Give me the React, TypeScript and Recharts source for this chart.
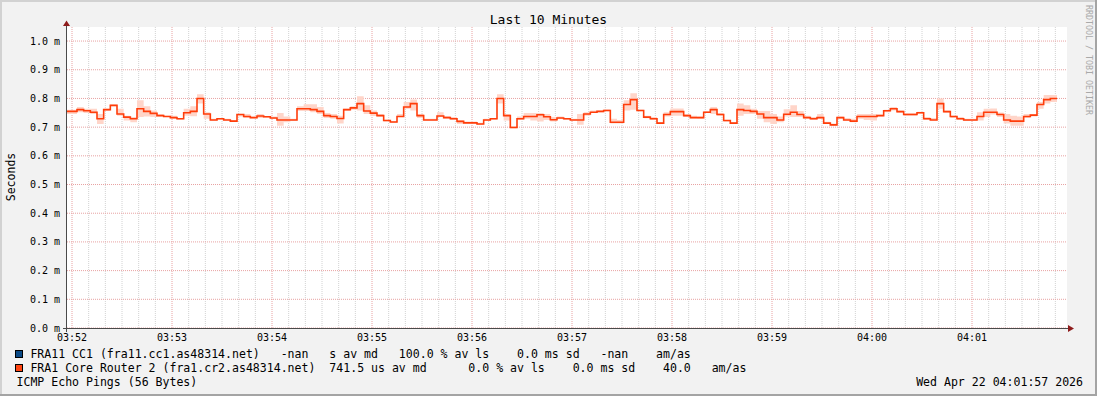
import React from 'react';
import { ComposedChart, Area, Line, XAxis, YAxis, CartesianGrid } from 'recharts';

const MONO = '"DejaVu Sans Mono", "Liberation Mono", monospace';

// x axis: seconds after 03:51:57 (left edge of the 10 minute window)
const MINUTE_LABELS = ['03:52', '03:53', '03:54', '03:55', '03:56', '03:57', '03:58', '03:59', '04:00', '04:01'];
const Y_TICKS = [0, 0.1, 0.2, 0.3, 0.4, 0.5, 0.6, 0.7, 0.8, 0.9, 1.0];
const Y_MAX = 1.049;
const WINDOW_SEC = 600;
const STEP_SEC = 4;
const FIRST_STEP_SEC = 6;

// median rtt per step, ms
const MEDIAN = [
  0.755, 0.761, 0.757, 0.752, 0.729, 0.761, 0.776, 0.746, 0.735, 0.729,
  0.764, 0.755, 0.748, 0.740, 0.737, 0.733, 0.729, 0.750, 0.755, 0.800,
  0.746, 0.725, 0.729, 0.725, 0.721, 0.744, 0.737, 0.733, 0.739, 0.736,
  0.732, 0.725, 0.725, 0.725, 0.764, 0.764, 0.761, 0.755, 0.740, 0.737,
  0.730, 0.761, 0.767, 0.782, 0.756, 0.749, 0.740, 0.723, 0.718, 0.737,
  0.770, 0.782, 0.740, 0.725, 0.725, 0.739, 0.733, 0.729, 0.720, 0.715,
  0.715, 0.711, 0.725, 0.729, 0.800, 0.740, 0.699, 0.729, 0.737, 0.737,
  0.743, 0.736, 0.726, 0.732, 0.729, 0.725, 0.725, 0.746, 0.752, 0.755,
  0.758, 0.717, 0.717, 0.779, 0.796, 0.758, 0.735, 0.729, 0.714, 0.744,
  0.754, 0.754, 0.740, 0.733, 0.733, 0.752, 0.761, 0.744, 0.723, 0.714,
  0.761, 0.758, 0.755, 0.746, 0.733, 0.733, 0.725, 0.745, 0.752, 0.744,
  0.733, 0.729, 0.733, 0.714, 0.708, 0.733, 0.725, 0.721, 0.737, 0.737,
  0.737, 0.740, 0.757, 0.764, 0.754, 0.744, 0.744, 0.750, 0.729, 0.725,
  0.782, 0.754, 0.737, 0.729, 0.725, 0.725, 0.737, 0.752, 0.752, 0.744,
  0.725, 0.721, 0.721, 0.737, 0.742, 0.779, 0.796, 0.800,
];

// smoke band (max / min ping of each step), ms
const SMOKE_HI = [
  0.761, 0.770, 0.764, 0.764, 0.746, 0.764, 0.779, 0.764, 0.740, 0.735,
  0.794, 0.773, 0.758, 0.746, 0.740, 0.740, 0.732, 0.764, 0.773, 0.815,
  0.752, 0.729, 0.732, 0.729, 0.725, 0.746, 0.746, 0.737, 0.746, 0.739,
  0.737, 0.749, 0.737, 0.729, 0.773, 0.780, 0.780, 0.770, 0.749, 0.746,
  0.740, 0.764, 0.773, 0.808, 0.776, 0.758, 0.746, 0.726, 0.721, 0.746,
  0.788, 0.796, 0.746, 0.729, 0.729, 0.752, 0.739, 0.735, 0.725, 0.720,
  0.720, 0.715, 0.729, 0.732, 0.815, 0.746, 0.704, 0.737, 0.749, 0.749,
  0.749, 0.746, 0.735, 0.737, 0.732, 0.729, 0.746, 0.752, 0.758, 0.758,
  0.762, 0.729, 0.725, 0.794, 0.818, 0.761, 0.740, 0.735, 0.717, 0.752,
  0.765, 0.765, 0.746, 0.740, 0.737, 0.756, 0.770, 0.749, 0.725, 0.718,
  0.782, 0.776, 0.764, 0.756, 0.756, 0.746, 0.737, 0.762, 0.776, 0.756,
  0.740, 0.735, 0.746, 0.719, 0.713, 0.737, 0.732, 0.729, 0.746, 0.746,
  0.746, 0.744, 0.761, 0.770, 0.758, 0.749, 0.749, 0.754, 0.735, 0.732,
  0.800, 0.758, 0.740, 0.735, 0.729, 0.729, 0.752, 0.764, 0.765, 0.751,
  0.746, 0.740, 0.737, 0.746, 0.746, 0.788, 0.812, 0.812,
];

const SMOKE_LO = [
  0.746, 0.752, 0.749, 0.746, 0.711, 0.756, 0.773, 0.740, 0.723, 0.717,
  0.735, 0.737, 0.735, 0.737, 0.735, 0.729, 0.726, 0.740, 0.738, 0.782,
  0.729, 0.723, 0.726, 0.723, 0.719, 0.737, 0.732, 0.731, 0.732, 0.733,
  0.729, 0.705, 0.717, 0.723, 0.756, 0.756, 0.752, 0.746, 0.732, 0.729,
  0.713, 0.756, 0.761, 0.758, 0.746, 0.739, 0.737, 0.720, 0.715, 0.735,
  0.764, 0.758, 0.732, 0.723, 0.723, 0.735, 0.730, 0.725, 0.711, 0.713,
  0.713, 0.708, 0.721, 0.726, 0.782, 0.723, 0.696, 0.725, 0.729, 0.723,
  0.720, 0.725, 0.720, 0.729, 0.725, 0.723, 0.708, 0.740, 0.749, 0.751,
  0.755, 0.713, 0.713, 0.758, 0.761, 0.755, 0.731, 0.725, 0.711, 0.737,
  0.740, 0.740, 0.735, 0.730, 0.729, 0.749, 0.746, 0.740, 0.719, 0.711,
  0.740, 0.746, 0.746, 0.729, 0.717, 0.711, 0.717, 0.737, 0.735, 0.735,
  0.730, 0.725, 0.729, 0.711, 0.705, 0.729, 0.723, 0.717, 0.729, 0.725,
  0.723, 0.737, 0.752, 0.758, 0.750, 0.740, 0.740, 0.746, 0.725, 0.723,
  0.764, 0.750, 0.732, 0.725, 0.721, 0.721, 0.723, 0.735, 0.744, 0.735,
  0.713, 0.705, 0.705, 0.732, 0.737, 0.764, 0.782, 0.788,
];

const LEGEND_ROWS = [
  { color: '#0b4a86', text: 'FRA11 CC1 (fra11.cc1.as48314.net)   -nan   s av md   100.0 % av ls    0.0 ms sd   -nan    am/as' },
  { color: '#ff4512', text: 'FRA1 Core Router 2 (fra1.cr2.as48314.net)  741.5 us av md      0.0 % av ls    0.0 ms sd    40.0   am/as' },
];
const FOOTER_LEFT = 'ICMP Echo Pings (56 Bytes)';
const FOOTER_RIGHT = 'Wed Apr 22 04:01:57 2026';

const stepTime = (i: number) => (i === 0 ? 0 : FIRST_STEP_SEC + STEP_SEC * (i - 1));

const data = MEDIAN.map((m, i) => ({ t: stepTime(i), median: m, smoke: [SMOKE_LO[i], SMOKE_HI[i]] }));
const last = MEDIAN.length - 1;
data.push({ t: stepTime(last) + STEP_SEC, median: MEDIAN[last], smoke: [SMOKE_LO[last], SMOKE_HI[last]] });

const MAJOR_X = MINUTE_LABELS.map((_, i) => 3 + 60 * i);
const MINOR_X: number[] = [];
for (let s = 3; s < WINDOW_SEC; s += 10) if ((s - 3) % 60 !== 0) MINOR_X.push(s);

const Frame = () => (
  <svg width={1097} height={396} style={{ position: 'absolute', left: 0, top: 0, pointerEvents: 'none' }}>
    <rect x={0} y={0} width={1097} height={2} fill="#d2d2d2" />
    <rect x={0} y={0} width={2} height={396} fill="#d2d2d2" />
    <rect x={0} y={394} width={1097} height={2} fill="#a4a4a4" />
    <rect x={1095} y={0} width={2} height={396} fill="#a4a4a4" />
    <line x1={63} y1={328.5} x2={1069} y2={328.5} stroke="#4a4a4a" strokeWidth={1} />
    <line x1={66.5} y1={25} x2={66.5} y2={332} stroke="#4a4a4a" strokeWidth={1} />
    <polygon points="1068,325 1074,328.5 1068,332" fill="#8e1c1c" />
    <polygon points="63,26 66.5,20.5 70,26" fill="#8e1c1c" />
  </svg>
);

export default function App() {
  const txt: React.CSSProperties = { position: 'absolute', fontFamily: MONO, whiteSpace: 'pre', color: '#000' };
  return (
    <div style={{ position: 'absolute', left: 0, top: 0, width: 1097, height: 396, background: '#f2f2f2', overflow: 'hidden' }}>
      <ComposedChart width={1097} height={396} data={data} margin={{ top: 27, right: 30, bottom: 0, left: 0 }}>
        <CartesianGrid horizontal={false} verticalValues={MINOR_X} stroke="#d2d2d2" strokeDasharray="1 1" fill="#ffffff" fillOpacity={1} />
        <CartesianGrid horizontalValues={Y_TICKS} verticalValues={MAJOR_X} stroke="#e8a2a2" strokeDasharray="1 1" />
        <XAxis
          dataKey="t"
          type="number"
          domain={[0, WINDOW_SEC]}
          ticks={MAJOR_X}
          interval={0}
          tickFormatter={(v: number) => MINUTE_LABELS[MAJOR_X.indexOf(v)] ?? ''}
          height={68}
          axisLine={false}
          tickLine={false}
          tickSize={3}
          tickMargin={3}
          tick={{ fill: '#000', fontSize: 10, fontFamily: MONO }}
          allowDataOverflow
        />
        <YAxis
          type="number"
          domain={[0, Y_MAX]}
          ticks={Y_TICKS}
          interval={0}
          tickFormatter={(v: number) => `${v.toFixed(1)} m`}
          width={67}
          axisLine={false}
          tickLine={false}
          tickSize={4}
          tickMargin={3}
          tick={{ fill: '#000', fontSize: 10, fontFamily: MONO }}
          allowDataOverflow
        />
        <Area dataKey="smoke" type="stepAfter" fill="#ffd5c9" fillOpacity={1} stroke="none" isAnimationActive={false} />
        <Line dataKey="median" type="stepAfter" stroke="#ff3d0a" strokeWidth={1.6} dot={false} isAnimationActive={false} />
      </ComposedChart>

      <Frame />

      <div style={{ ...txt, left: 0, width: 1097, top: 12.5, lineHeight: '14px', fontSize: 13, textAlign: 'center' }}>Last 10 Minutes</div>
      <div style={{ ...txt, left: -39, top: 170, width: 100, lineHeight: '14px', fontSize: 11.5, textAlign: 'center', transform: 'rotate(-90deg)' }}>Seconds</div>
      <div style={{ ...txt, left: 1029, top: 55, width: 120, lineHeight: '10px', fontSize: 8.3, textAlign: 'center', color: '#a9a9a9', transform: 'rotate(90deg)' }}>RRDTOOL / TOBI OETIKER</div>

      {LEGEND_ROWS.map((row, i) => (
        <React.Fragment key={i}>
          <div style={{ position: 'absolute', left: 15, top: 350 + i * 13.5, width: 6, height: 6, background: row.color, border: '1px solid #000' }} />
          <div style={{ ...txt, left: 30.4, top: 347 + i * 13.5, lineHeight: '14px', fontSize: 11.55 }}>{row.text}</div>
        </React.Fragment>
      ))}
      <div style={{ ...txt, left: 16.5, top: 374.5, lineHeight: '14px', fontSize: 11.55 }}>{FOOTER_LEFT}</div>
      <div style={{ ...txt, right: 14, top: 374.5, lineHeight: '14px', fontSize: 11.55, textAlign: 'right' }}>{FOOTER_RIGHT}</div>
    </div>
  );
}
